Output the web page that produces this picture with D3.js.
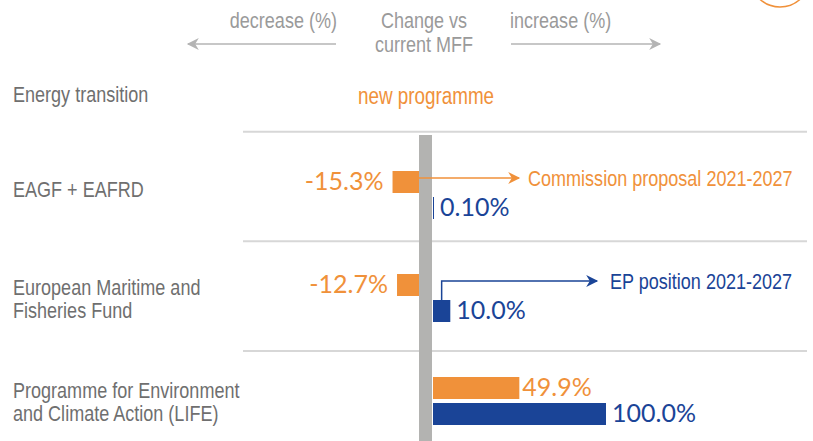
<!DOCTYPE html>
<html>
<head>
<meta charset="utf-8">
<script src="https://cdn.jsdelivr.net/npm/d3@7"></script>
<style>
  body { margin: 0; background: #fff; }
  svg { display: block; }
  .cond { font-family: "Liberation Sans", Arial, sans-serif; }
  .num { font-family: Lato, "Open Sans", sans-serif; }
</style>
</head>
<body>
<svg width="813" height="441"></svg>
<script>
// data
const categories = [
  'Energy transition',
  'EAGF + EAFRD',
  'European Maritime and|Fisheries Fund',
  'Programme for Environment|and Climate Action (LIFE)',
];
const commission = [null, -15.3, -12.7, 49.9];
const ep = [null, 0.10, 10.0, 100.0];
const commissionLabels = ['', '-15.3%', '-12.7%', '49.9%'];
const epLabels = ['', '0.10%', '10.0%', '100.0%'];

const orange = '#f0913a';
const blue = '#1a4497';
const greyText = '#6f6f6f';
const squeeze = 0.82; // stand-in for a condensed face

const svg = d3.select('svg');
const width = 813;
const height = 441;

// scales
const rowTop = d3.scalePoint().domain(categories).range([22, 351]);
const rowMid = d3.scalePoint().domain(categories).range([92, 401]);
const len = d3.scaleLinear().domain([0, 100]).range([0, 173]);
const negZero = 419;
const posZero = 433;
const barH = 22;
const gap = 4;

// narrow text helper
function condText(parent, x, y, str, color, size, anchor) {
  return parent.append('g')
    .attr('transform', `translate(${x},${y}) scale(${squeeze},1)`)
    .append('text')
    .attr('class', 'cond')
    .attr('fill', color)
    .style('font-size', size + 'px')
    .attr('text-anchor', anchor || 'start')
    .text(str);
}

// header
const head = svg.append('g');
condText(head, 337, 28, 'decrease (%)', '#9a9a9a', 22, 'end');
condText(head, 510, 28, 'increase (%)', '#9a9a9a', 22);
condText(head, 424, 28, 'Change vs', '#9a9a9a', 22, 'middle');
condText(head, 424, 52, 'current MFF', '#9a9a9a', 22, 'middle');

const defs = svg.append('defs');
function marker(id, color, w, h) {
  defs.append('marker')
    .attr('id', id)
    .attr('viewBox', '0 0 10 10')
    .attr('refX', 9).attr('refY', 5)
    .attr('markerWidth', w).attr('markerHeight', h)
    .attr('markerUnits', 'userSpaceOnUse')
    .attr('orient', 'auto')
    .append('path').attr('d', 'M0,0L10,5L0,10L3,5Z').attr('fill', color);
}
marker('arrGrey', '#b4b4b4', 14, 12);
marker('arrOrange', orange, 14, 12);
marker('arrBlue', blue, 14, 12);

head.append('line').attr('x1', 336).attr('x2', 188).attr('y1', 44).attr('y2', 44)
  .attr('stroke', '#b4b4b4').attr('stroke-width', 1.5).attr('marker-end', 'url(#arrGrey)');
head.append('line').attr('x1', 511).attr('x2', 660).attr('y1', 44).attr('y2', 44)
  .attr('stroke', '#b4b4b4').attr('stroke-width', 1.5).attr('marker-end', 'url(#arrGrey)');

// corner circle
svg.append('circle').attr('cx', 780).attr('cy', -23).attr('r', 30)
  .attr('fill', 'none').attr('stroke', orange).attr('stroke-width', 1.5);

// row separators
svg.selectAll('.sep')
  .data(categories.slice(1))
  .join('line')
  .attr('class', 'sep')
  .attr('x1', 243).attr('x2', 807)
  .attr('y1', d => rowTop(d)).attr('y2', d => rowTop(d))
  .attr('stroke', '#d7d7d7').attr('stroke-width', 2);

// centre bar
svg.append('rect').attr('x', negZero).attr('y', 135)
  .attr('width', posZero - negZero - 1).attr('height', height - 135)
  .attr('fill', '#b3b3b1');

// category labels
const cats = svg.append('g');
categories.forEach((d, i) => {
  const lines = d.split('|');
  const off = i === 1 ? -6 : (i === 0 ? 2 : 0);
  lines.forEach((l, j) => {
    condText(cats, 13, rowMid(d) + off + 8 + (j - (lines.length - 1) / 2) * 23, l, greyText, 22);
  });
});

condText(svg, 426, 104, 'new programme', orange, 23, 'middle');

// bars
const rows = categories.map((c, i) => ({ c, com: commission[i], ep: ep[i], cl: commissionLabels[i], el: epLabels[i] }))
  .filter(d => d.com !== null);

function barX(v) { return v < 0 ? negZero - len(-v) : posZero; }
function barW(v) { return Math.max(1, len(Math.abs(v))); }

const g = svg.append('g');
g.selectAll('.com')
  .data(rows)
  .join('rect')
  .attr('x', d => barX(d.com))
  .attr('y', d => rowMid(d.c) - barH - gap / 2)
  .attr('width', d => barW(d.com))
  .attr('height', barH)
  .attr('fill', orange);

g.selectAll('.ep')
  .data(rows)
  .join('rect')
  .attr('x', d => barX(d.ep))
  .attr('y', d => rowMid(d.c) + gap / 2)
  .attr('width', d => barW(d.ep))
  .attr('height', barH)
  .attr('fill', blue);

// value labels
g.selectAll('.cl')
  .data(rows)
  .join('text')
  .attr('class', 'num')
  .style('font-size', '25px')
  .attr('fill', orange)
  .attr('text-anchor', d => d.com < 0 ? 'end' : 'start')
  .attr('x', d => d.com < 0 ? barX(d.com) - 9 : posZero + barW(d.com) + 3)
  .attr('y', d => rowMid(d.c) - gap / 2 - barH / 2 + 8)
  .text(d => d.cl);

g.selectAll('.el')
  .data(rows)
  .join('text')
  .attr('class', 'num')
  .style('font-size', '25px')
  .attr('fill', blue)
  .attr('x', d => posZero + barW(d.ep) + 6)
  .attr('y', d => rowMid(d.c) + gap / 2 + barH / 2 + 8)
  .text(d => d.el);

// annotations
const r1 = rows[0];
const yCom = rowMid(r1.c) - gap / 2 - barH / 2 - 4;
svg.append('line').attr('x1', negZero).attr('x2', 519).attr('y1', yCom).attr('y2', yCom)
  .attr('stroke', orange).attr('stroke-width', 1.5).attr('marker-end', 'url(#arrOrange)');
condText(svg, 528, yCom + 8, 'Commission proposal 2021-2027', orange, 22);

const r2 = rows[1];
const bx = posZero + barW(r2.ep) / 2;
const yEp = rowMid(r2.c) - 17;
svg.append('path')
  .attr('d', `M${bx},${rowMid(r2.c) + gap / 2}V${yEp}H597`)
  .attr('fill', 'none').attr('stroke', blue).attr('stroke-width', 1.5)
  .attr('marker-end', 'url(#arrBlue)');
condText(svg, 610, yEp + 8, 'EP position 2021-2027', blue, 22);
</script>
</body>
</html>
